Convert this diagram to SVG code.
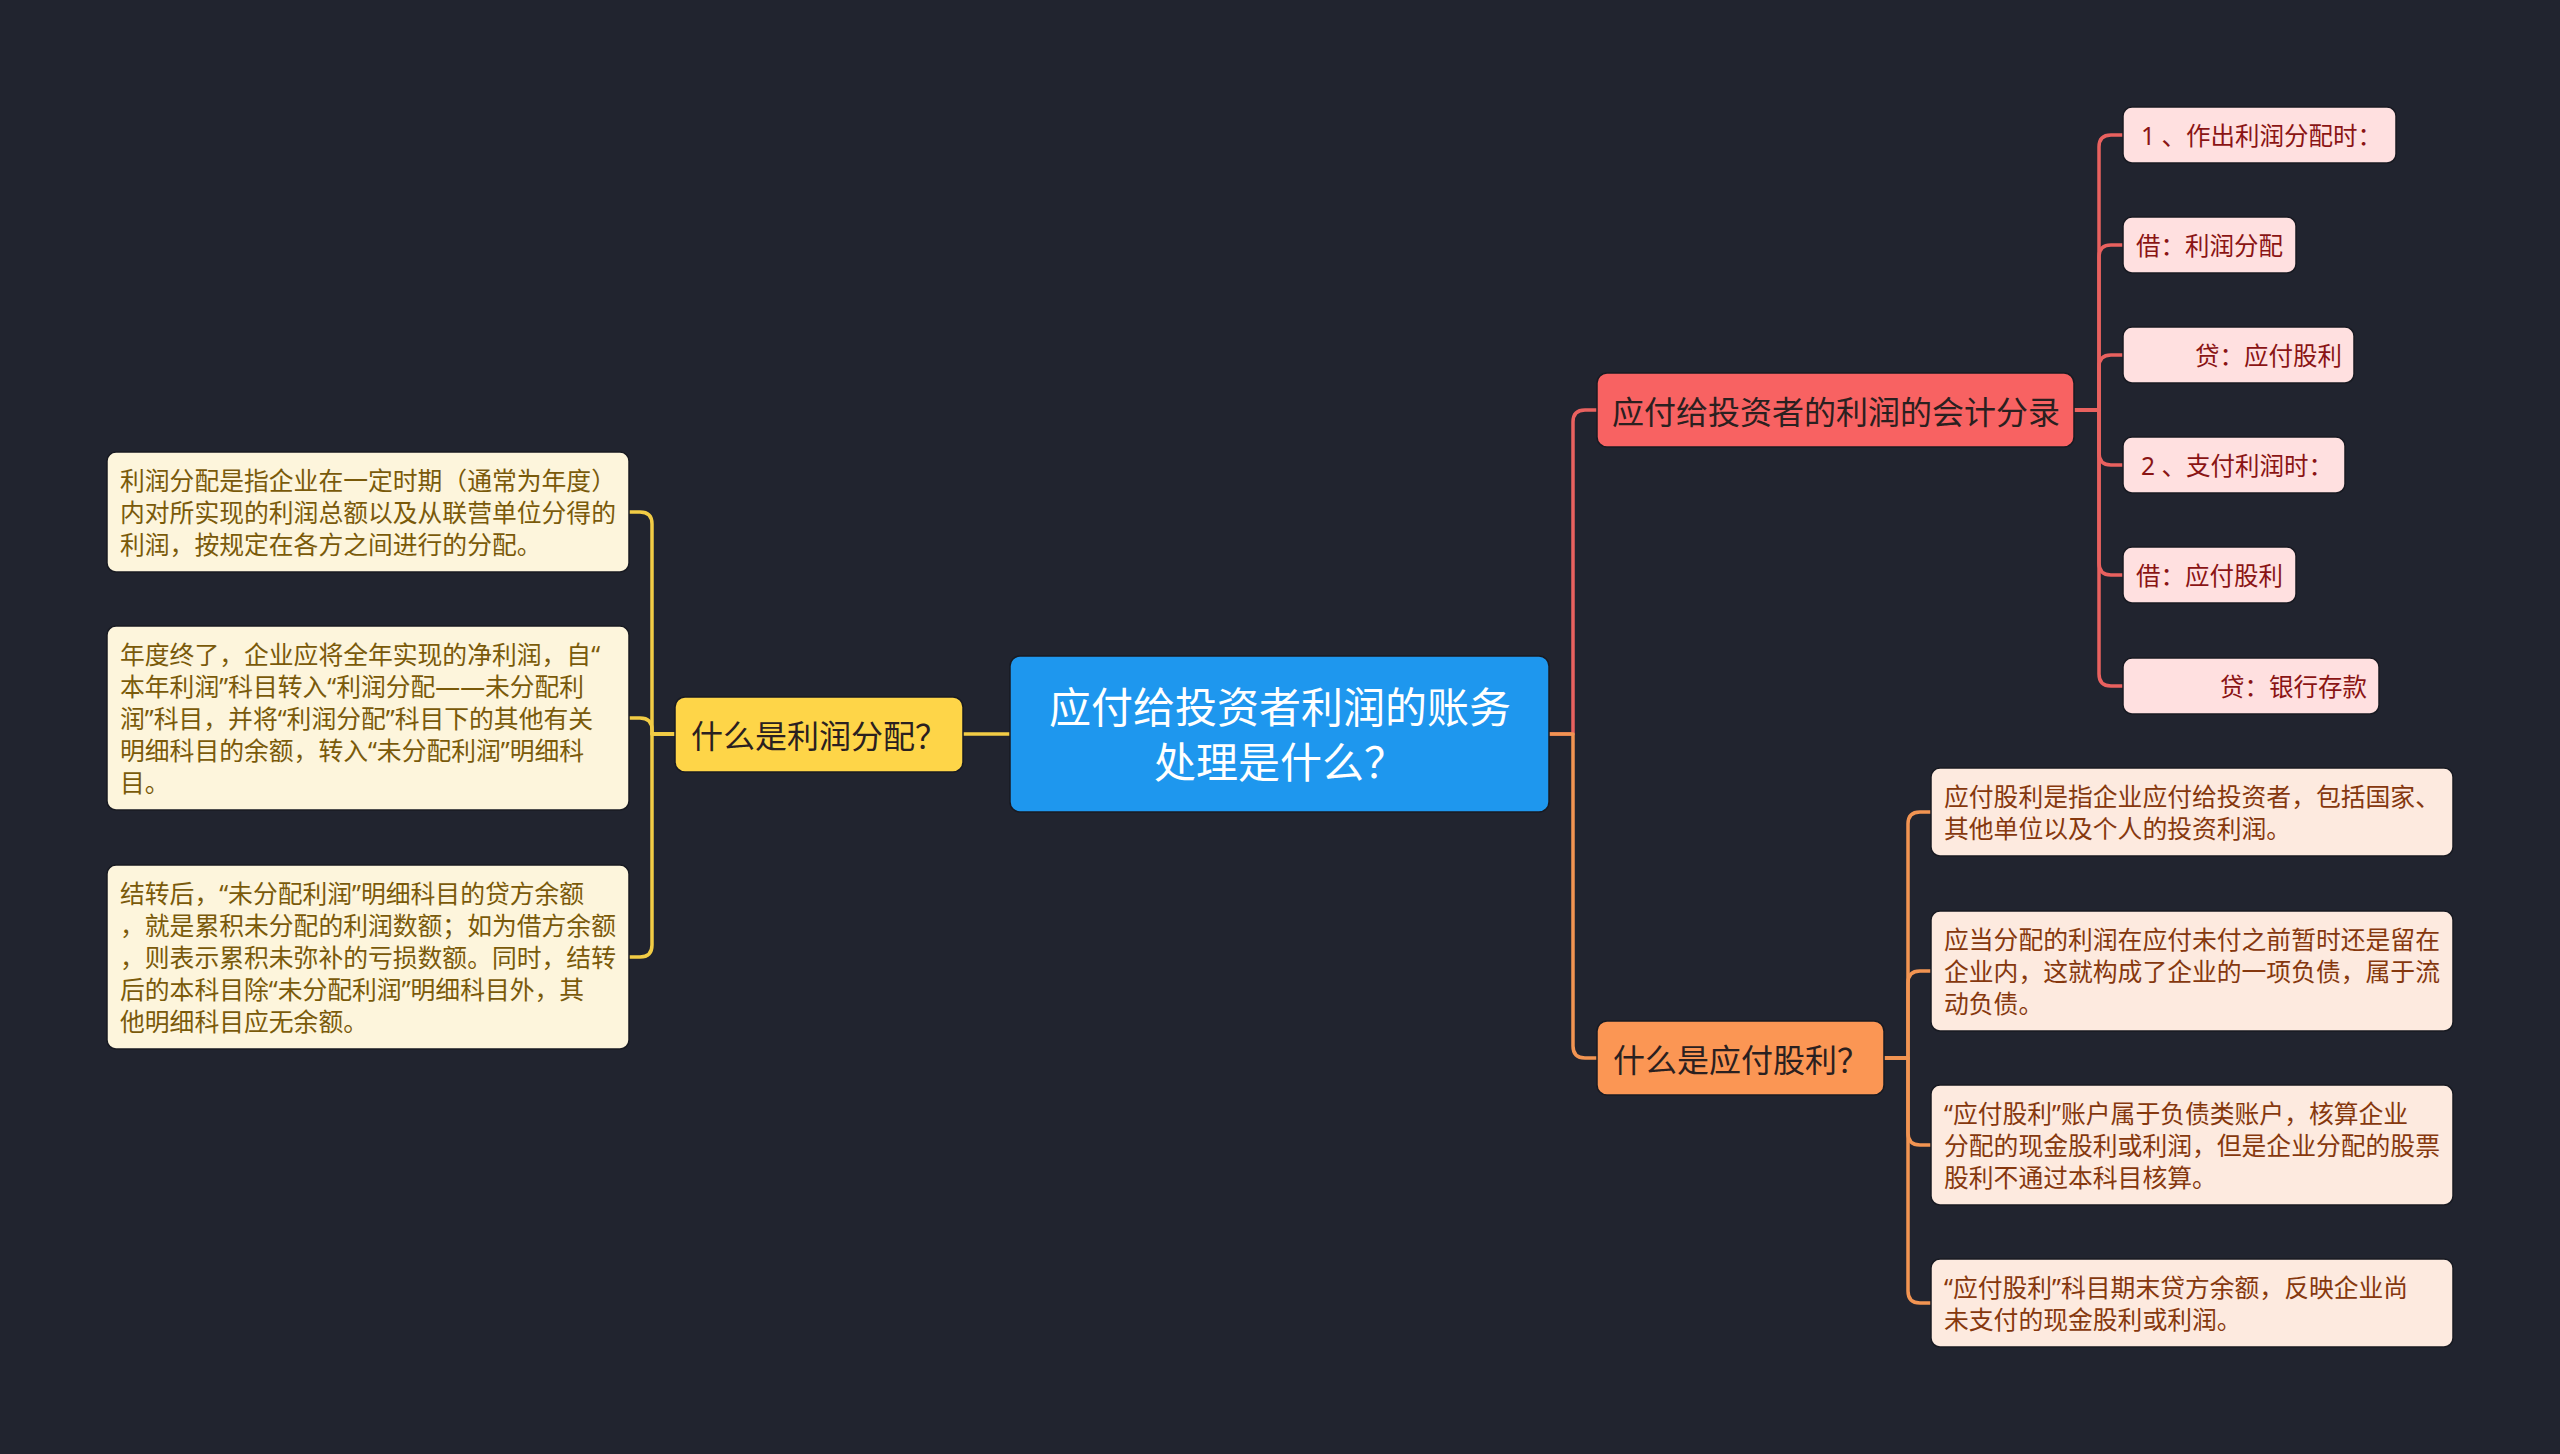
<svg xmlns="http://www.w3.org/2000/svg" width="2560" height="1454" viewBox="0 0 2560 1454">
<style>
text{font-family:"Noto Sans","Noto Sans CJK SC",sans-serif;dominant-baseline:central}
.c{fill:none;stroke-width:3.5;stroke-linecap:round;stroke-linejoin:round}
.cy{stroke:#f2cc45}.cr{stroke:#e9615f}.co{stroke:#f29452}
.root{fill:#1e97ee}
.rt{fill:#ffffff;font-size:42px;text-anchor:middle}
.by{fill:#fed548}.br{fill:#f86262}.bo{fill:#fb9654}
.bt{fill:#2a2020;font-size:32px}
.ly{fill:#fdf5dc}.lr{fill:#ffe0e0}.lo{fill:#fdeadf}
.ty{fill:#7a5a0a;font-size:24.8px}
.tr{fill:#8a1414;font-size:24.5px}
.to{fill:#86380e;font-size:24.8px}
.n{stroke:#181a22;stroke-width:1.5}
</style>
<rect width="2560" height="1454" fill="#21242f"/>
<g id="connectors">
<path class="c cy" d="M1010,734 H963"/>
<path class="c cy" d="M675,734 H652 V524 Q652,512 640,512 H629"/>
<path class="c cy" d="M675,734 H652 V730 Q652,718 640,718 H629"/>
<path class="c cy" d="M675,734 H652 V945 Q652,957 640,957 H629"/>
<path class="c cr" d="M1549,734 H1573 V422 Q1573,410 1585,410 H1597"/>
<path class="c co" d="M1549,734 H1573 V1046 Q1573,1058 1585,1058 H1597"/>
<path class="c cr" d="M2074,410 H2099 V147 Q2099,135 2111,135 H2123"/>
<path class="c cr" d="M2074,410 H2099 V257 Q2099,245 2111,245 H2123"/>
<path class="c cr" d="M2074,410 H2099 V367 Q2099,355 2111,355 H2123"/>
<path class="c cr" d="M2074,410 H2099 V453 Q2099,465 2111,465 H2123"/>
<path class="c cr" d="M2074,410 H2099 V563 Q2099,575 2111,575 H2123"/>
<path class="c cr" d="M2074,410 H2099 V674 Q2099,686 2111,686 H2123"/>
<path class="c co" d="M1884,1058 H1908 V824 Q1908,812 1920,812 H1931"/>
<path class="c co" d="M1884,1058 H1908 V983 Q1908,971 1920,971 H1931"/>
<path class="c co" d="M1884,1058 H1908 V1133 Q1908,1145 1920,1145 H1931"/>
<path class="c co" d="M1884,1058 H1908 V1291 Q1908,1303 1920,1303 H1931"/>
</g>
<g id="root">
<rect class="root n" x="1010" y="656" width="539" height="156" rx="10"/>
<text class="rt" x="1280" y="706">应付给投资者利润的账务</text>
<text class="rt" x="1280" y="761">处理是什么？</text>
</g>
<g id="b-left">
<rect class="by n" x="675" y="697" width="288" height="75" rx="10"/>
<text class="bt" x="691" y="735">什么是利润分配？</text>
</g>
<g id="l1">
<rect class="ly n" x="107" y="452" width="522" height="120" rx="9"/>
<text class="ty" x="120" y="480">利润分配是指企业在一定时期（通常为年度）</text>
<text class="ty" x="120" y="512">内对所实现的利润总额以及从联营单位分得的</text>
<text class="ty" x="120" y="544">利润，按规定在各方之间进行的分配。</text>
</g>
<g id="l2">
<rect class="ly n" x="107" y="626" width="522" height="184" rx="9"/>
<text class="ty" x="120" y="654">年度终了，企业应将全年实现的净利润，自“</text>
<text class="ty" x="120" y="686">本年利润”科目转入“利润分配——未分配利</text>
<text class="ty" x="120" y="718">润”科目，并将“利润分配”科目下的其他有关</text>
<text class="ty" x="120" y="750">明细科目的余额，转入“未分配利润”明细科</text>
<text class="ty" x="120" y="782">目。</text>
</g>
<g id="l3">
<rect class="ly n" x="107" y="865" width="522" height="184" rx="9"/>
<text class="ty" x="120" y="893">结转后，“未分配利润”明细科目的贷方余额</text>
<text class="ty" x="120" y="925">，就是累积未分配的利润数额；如为借方余额</text>
<text class="ty" x="120" y="957">，则表示累积未弥补的亏损数额。同时，结转</text>
<text class="ty" x="120" y="989">后的本科目除“未分配利润”明细科目外，其</text>
<text class="ty" x="120" y="1021">他明细科目应无余额。</text>
</g>
<g id="b-red">
<rect class="br n" x="1597" y="373" width="477" height="74" rx="10"/>
<text class="bt" x="1612" y="411">应付给投资者的利润的会计分录</text>
</g>
<g id="r1">
<rect class="lr n" x="2123" y="107" width="273" height="56" rx="9"/>
<text class="tr" x="2141" y="135">1 、作出利润分配时：</text>
</g>
<g id="r2">
<rect class="lr n" x="2123" y="217" width="173" height="56" rx="9"/>
<text class="tr" x="2136" y="245">借：利润分配</text>
</g>
<g id="r3">
<rect class="lr n" x="2123" y="327" width="231" height="56" rx="9"/>
<text class="tr" x="2342" y="355" text-anchor="end">贷：应付股利</text>
</g>
<g id="r4">
<rect class="lr n" x="2123" y="437" width="222" height="56" rx="9"/>
<text class="tr" x="2141" y="465">2 、支付利润时：</text>
</g>
<g id="r5">
<rect class="lr n" x="2123" y="547" width="173" height="56" rx="9"/>
<text class="tr" x="2136" y="575">借：应付股利</text>
</g>
<g id="r6">
<rect class="lr n" x="2123" y="658" width="256" height="56" rx="9"/>
<text class="tr" x="2367" y="686" text-anchor="end">贷：银行存款</text>
</g>
<g id="b-orange">
<rect class="bo n" x="1597" y="1021" width="287" height="74" rx="10"/>
<text class="bt" x="1613" y="1059">什么是应付股利？</text>
</g>
<g id="o1">
<rect class="lo n" x="1931" y="768" width="522" height="88" rx="9"/>
<text class="to" x="1944" y="796">应付股利是指企业应付给投资者，包括国家、</text>
<text class="to" x="1944" y="828">其他单位以及个人的投资利润。</text>
</g>
<g id="o2">
<rect class="lo n" x="1931" y="911" width="522" height="120" rx="9"/>
<text class="to" x="1944" y="939">应当分配的利润在应付未付之前暂时还是留在</text>
<text class="to" x="1944" y="971">企业内，这就构成了企业的一项负债，属于流</text>
<text class="to" x="1944" y="1003">动负债。</text>
</g>
<g id="o3">
<rect class="lo n" x="1931" y="1085" width="522" height="120" rx="9"/>
<text class="to" x="1944" y="1113">“应付股利”账户属于负债类账户，核算企业</text>
<text class="to" x="1944" y="1145">分配的现金股利或利润，但是企业分配的股票</text>
<text class="to" x="1944" y="1177">股利不通过本科目核算。</text>
</g>
<g id="o4">
<rect class="lo n" x="1931" y="1259" width="522" height="88" rx="9"/>
<text class="to" x="1944" y="1287">“应付股利”科目期末贷方余额，反映企业尚</text>
<text class="to" x="1944" y="1319">未支付的现金股利或利润。</text>
</g>
</svg>
